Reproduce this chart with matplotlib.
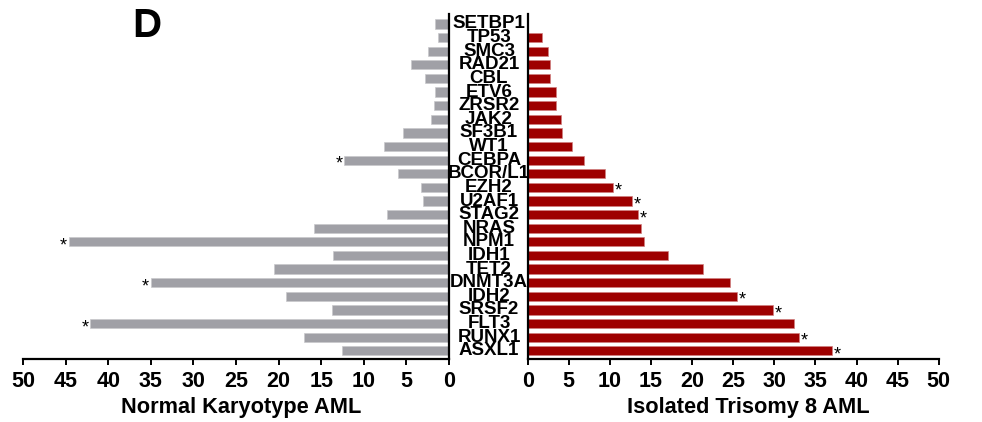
import matplotlib
matplotlib.use("Agg")
import matplotlib.pyplot as plt
from matplotlib.transforms import blended_transform_factory

plt.rcParams['font.family'] = ['Liberation Sans', 'DejaVu Sans']
plt.rcParams['font.weight'] = 'bold'

genes = ["SETBP1", "TP53", "SMC3", "RAD21", "CBL", "ETV6", "ZRSR2", "JAK2",
         "SF3B1", "WT1", "CEBPA", "BCOR/L1", "EZH2", "U2AF1", "STAG2", "NRAS",
         "NPM1", "IDH1", "TET2", "DNMT3A", "IDH2", "SRSF2", "FLT3", "RUNX1", "ASXL1"]
normal_karyotype = [1.6, 1.25, 2.5, 4.5, 2.8, 1.6, 1.75, 2.1, 5.4, 7.6, 12.3, 5.95,
                    3.3, 3.1, 7.3, 15.8, 44.6, 13.6, 20.5, 35.0, 19.1, 13.7, 42.1, 17.0, 12.6]
trisomy8 = [0.0, 1.7, 2.5, 2.7, 2.7, 3.4, 3.5, 4.1, 4.2, 5.4, 6.9, 9.4,
            10.4, 12.65, 13.4, 13.8, 14.15, 17.1, 21.3, 24.6, 25.5, 29.9, 32.4, 33.0, 37.0]
star_left = ["CEBPA", "NPM1", "DNMT3A", "FLT3"]
star_right = ["EZH2", "U2AF1", "STAG2", "IDH2", "SRSF2", "RUNX1", "ASXL1"]
xticks = [0, 5, 10, 15, 20, 25, 30, 35, 40, 45, 50]

W, H = 982, 422
fig = plt.figure(figsize=(W / 100, H / 100), dpi=100)

ybot, ytop = 359, 14
axL = fig.add_axes([23 / W, 1 - ybot / H, (449 - 23) / W, (ybot - ytop) / H])
axR = fig.add_axes([527.7 / W, 1 - ybot / H, 411 / W, (ybot - ytop) / H])

ypos = list(range(len(genes)))
gray = "#A0A0A6"
red = "#9E0000"

axL.barh(ypos, normal_karyotype, height=0.68, color=gray, edgecolor="#C8C8CC", linewidth=0.5)
axR.barh(ypos, trisomy8, height=0.68, color=red, edgecolor="#D08080", linewidth=0.5)

for ax in (axL, axR):
    ax.set_ylim(24.6, -0.73)
    ax.set_yticks([])
    ax.spines['top'].set_visible(False)
    for s in ax.spines.values():
        s.set_linewidth(1.6)
    ax.set_xticks(xticks)
    ax.set_xticklabels([str(t) for t in xticks], fontsize=15.5, fontweight='bold')
    ax.tick_params(axis='x', direction='out', length=4.5, width=1.4, pad=4)

axL.set_xlim(50, 0)
axL.spines['left'].set_visible(False)
axR.set_xlim(0, 50)
axR.spines['right'].set_visible(False)

for g in star_left:
    i = genes.index(g)
    axL.text(normal_karyotype[i] + 0.2, i + 0.3, "*", ha='right', va='center',
             fontsize=13, fontweight='normal')
for g in star_right:
    i = genes.index(g)
    axR.text(trisomy8[i] + 0.2, i + 0.3, "*", ha='left', va='center',
             fontsize=13, fontweight='normal')

tr = blended_transform_factory(fig.transFigure, axR.transData)
for i, g in enumerate(genes):
    axR.text(489 / W, i, g, transform=tr, ha='center', va='center',
             fontsize=13.5, fontweight='bold', clip_on=False)

fig.text(241 / W, 1 - 407 / H, "Normal Karyotype AML", ha='center', va='center',
         fontsize=15.7, fontweight='bold')
fig.text(748 / W, 1 - 407 / H, "Isolated Trisomy 8 AML", ha='center', va='center',
         fontsize=15.7, fontweight='bold')
fig.text(147 / W, 1 - 26 / H, "D", ha='center', va='center', fontsize=29, fontweight='bold')

fig.savefig("out.png", dpi=100)
